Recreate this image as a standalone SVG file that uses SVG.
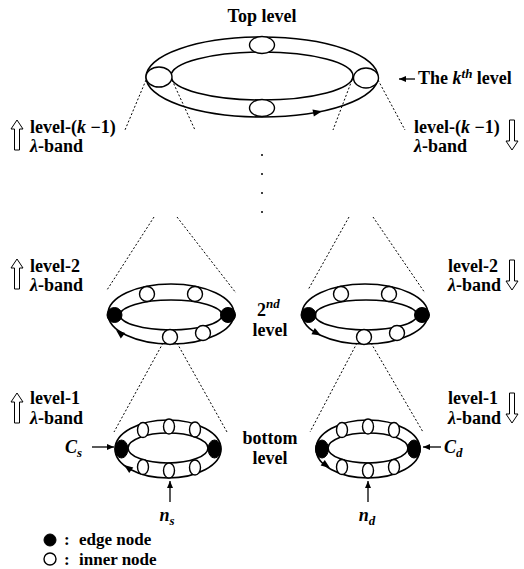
<svg xmlns="http://www.w3.org/2000/svg" width="524" height="569" viewBox="0 0 524 569">
<style>
  .ring{fill:none;stroke:#000;stroke-width:1.6}
  .wn{fill:#fff;stroke:#000;stroke-width:1.4}
  .bn{fill:#000;stroke:#000;stroke-width:1}
  .dot{fill:none;stroke:#000;stroke-width:1;stroke-dasharray:2,2}
  .ln{fill:none;stroke:#000;stroke-width:1.3}
  .t{font-family:"Liberation Serif","Times New Roman",serif;font-weight:bold;font-size:18px;fill:#000}
  .lg{font-size:17px}
  .i{font-style:italic}
  .hol{fill:#fff;stroke:#000;stroke-width:1}
  .ah{fill:#000}
</style>
<defs>
  <marker id="arr" markerWidth="8" markerHeight="8" refX="7" refY="4" orient="auto" markerUnits="userSpaceOnUse">
    <path d="M0,1 L7,4 L0,7 Z" fill="#000"/>
  </marker>
  <path id="hup" d="M0,0 L6,9 L2.5,9 L2.5,30 L-2.5,30 L-2.5,9 L-6,9 Z"/>
  <path id="head" d="M0,0 L-9,-3.5 L-9,3.5 Z"/>
</defs>

<!-- Top level ring -->
<g id="top-ring">
  <ellipse class="ring" cx="262" cy="77" rx="116" ry="40"/>
  <ellipse class="ring" cx="262" cy="76" rx="91" ry="24"/>
  <ellipse class="wn" cx="159" cy="77" rx="13" ry="10"/>
  <ellipse class="wn" cx="366" cy="78" rx="12.5" ry="10"/>
  <ellipse class="wn" cx="262" cy="45" rx="12.5" ry="8.5"/>
  <ellipse class="wn" cx="262" cy="108" rx="12.5" ry="8.5"/>
  <use href="#head" class="ah" transform="translate(322,111.3) rotate(-11)"/>
</g>

<!-- 2nd level left ring -->
<g id="l2-left">
  <ellipse class="ring" cx="171" cy="314" rx="63" ry="30"/>
  <ellipse class="ring" cx="171" cy="315" rx="51" ry="15"/>
  <circle class="bn" cx="114.5" cy="315" r="7.5"/>
  <circle class="bn" cx="228" cy="315" r="7.5"/>
  <circle class="wn" cx="147" cy="294" r="7.5"/>
  <circle class="wn" cx="195" cy="294" r="7.5"/>
  <circle class="wn" cx="170" cy="337" r="7.5"/>
  <circle class="wn" cx="203" cy="333" r="7.5"/>
  <use href="#head" class="ah" transform="translate(116,330) rotate(-141)"/>
</g>

<!-- 2nd level right ring -->
<g id="l2-right">
  <ellipse class="ring" cx="365" cy="314" rx="63" ry="30"/>
  <ellipse class="ring" cx="366" cy="315" rx="51" ry="15"/>
  <circle class="bn" cx="308.5" cy="315" r="7.5"/>
  <circle class="bn" cx="422" cy="315" r="7.5"/>
  <circle class="wn" cx="341" cy="294" r="7.5"/>
  <circle class="wn" cx="389" cy="294" r="7.5"/>
  <circle class="wn" cx="364" cy="337" r="7.5"/>
  <circle class="wn" cx="397" cy="333" r="7.5"/>
  <use href="#head" class="ah" transform="translate(321,335.5) rotate(29)"/>
</g>

<!-- bottom left ring -->
<g id="bottom-left">
  <ellipse class="ring" cx="168" cy="449" rx="53" ry="29"/>
  <ellipse class="ring" cx="168" cy="448" rx="40" ry="15"/>
  <ellipse class="bn" cx="121.5" cy="449" rx="6.5" ry="9"/>
  <ellipse class="bn" cx="214.5" cy="449" rx="6.5" ry="9"/>
  <ellipse class="wn" cx="143" cy="430" rx="5.5" ry="7.5"/>
  <ellipse class="wn" cx="169" cy="426.5" rx="5.5" ry="7.5"/>
  <ellipse class="wn" cx="195" cy="429.5" rx="5.5" ry="7.5"/>
  <ellipse class="wn" cx="143" cy="467" rx="5.5" ry="7.5"/>
  <ellipse class="wn" cx="169" cy="470.5" rx="5.5" ry="7.5"/>
  <ellipse class="wn" cx="195" cy="467.5" rx="5.5" ry="7.5"/>
  <use href="#head" class="ah" transform="translate(124,465) rotate(-144)"/>
</g>

<!-- bottom right ring -->
<g id="bottom-right">
  <ellipse class="ring" cx="368" cy="449" rx="52" ry="29"/>
  <ellipse class="ring" cx="368" cy="448" rx="40" ry="15"/>
  <ellipse class="bn" cx="322" cy="449" rx="6.5" ry="9"/>
  <ellipse class="bn" cx="414" cy="449" rx="6.5" ry="9"/>
  <ellipse class="wn" cx="342" cy="430" rx="5.5" ry="7.5"/>
  <ellipse class="wn" cx="368" cy="426.5" rx="5.5" ry="7.5"/>
  <ellipse class="wn" cx="394" cy="430" rx="5.5" ry="7.5"/>
  <ellipse class="wn" cx="342" cy="467" rx="5.5" ry="7.5"/>
  <ellipse class="wn" cx="368" cy="470.5" rx="5.5" ry="7.5"/>
  <ellipse class="wn" cx="394" cy="467" rx="5.5" ry="7.5"/>
  <use href="#head" class="ah" transform="translate(330,468) rotate(36)"/>
</g>

<!-- connectors -->
<g id="connectors">
  <line class="dot" x1="146" y1="80" x2="125" y2="130"/>
  <line class="dot" x1="172" y1="80" x2="195" y2="130"/>
  <line class="dot" x1="352" y1="80" x2="333" y2="130"/>
  <line class="dot" x1="378" y1="80" x2="405" y2="130"/>
  <line class="dot" x1="154" y1="217" x2="107" y2="290"/>
  <line class="dot" x1="177" y1="217" x2="236" y2="293"/>
  <line class="dot" x1="349" y1="217" x2="308" y2="290"/>
  <line class="dot" x1="373" y1="217" x2="425" y2="293"/>
  <line class="dot" x1="163" y1="343" x2="114" y2="432"/>
  <line class="dot" x1="177" y1="343" x2="227" y2="432"/>
  <line class="dot" x1="357" y1="343" x2="310" y2="432"/>
  <line class="dot" x1="371" y1="343" x2="423" y2="432"/>
  <circle cx="262" cy="155" r="1"/>
  <circle cx="262" cy="174" r="1"/>
  <circle cx="262" cy="193" r="1"/>
  <circle cx="262" cy="212" r="1"/>
  <line class="ln" x1="415" y1="79" x2="399" y2="79" marker-end="url(#arr)"/>
  <line class="ln" x1="92" y1="447" x2="114" y2="447" marker-end="url(#arr)"/>
  <line class="ln" x1="441" y1="447" x2="423" y2="447" marker-end="url(#arr)"/>
  <line class="ln" x1="170" y1="502" x2="170" y2="481" marker-end="url(#arr)"/>
  <line class="ln" x1="368" y1="502" x2="368" y2="481" marker-end="url(#arr)"/>
  <use href="#hup" class="hol" transform="translate(17,120)"/>
  <use href="#hup" class="hol" transform="translate(512,150) rotate(180)"/>
  <use href="#hup" class="hol" transform="translate(17,259)"/>
  <use href="#hup" class="hol" transform="translate(512,290) rotate(180)"/>
  <use href="#hup" class="hol" transform="translate(17,393)"/>
  <use href="#hup" class="hol" transform="translate(512,423) rotate(180)"/>
</g>

<!-- labels -->
<g id="labels">
  <text class="t" x="262" y="22" text-anchor="middle">Top level</text>
  <text class="t" x="418" y="84">The <tspan class="i">k</tspan><tspan class="i" font-size="13" dy="-6">th</tspan><tspan dy="6"> level</tspan></text>
  <text class="t" x="30" y="133">level-(<tspan class="i">k</tspan> −1)</text>
  <text class="t" x="30" y="152"><tspan class="i">λ</tspan>-band</text>
  <text class="t" x="414" y="133">level-(<tspan class="i">k</tspan> −1)</text>
  <text class="t" x="414" y="152"><tspan class="i">λ</tspan>-band</text>
  <text class="t" x="30" y="272">level-2</text>
  <text class="t" x="30" y="291"><tspan class="i">λ</tspan>-band</text>
  <text class="t" x="448" y="272">level-2</text>
  <text class="t" x="448" y="291"><tspan class="i">λ</tspan>-band</text>
  <text class="t" x="257" y="316" font-weight="normal">2<tspan class="i" font-weight="bold" font-size="13" dy="-8">nd</tspan></text>
  <text class="t" x="270" y="336" text-anchor="middle">level</text>
  <text class="t" x="30" y="404">level-1</text>
  <text class="t" x="30" y="424"><tspan class="i">λ</tspan>-band</text>
  <text class="t" x="448" y="404">level-1</text>
  <text class="t" x="448" y="424"><tspan class="i">λ</tspan>-band</text>
  <text class="t" x="270" y="444" text-anchor="middle">bottom</text>
  <text class="t" x="270" y="464" text-anchor="middle">level</text>
  <text class="t i" x="65" y="453">C<tspan font-size="13" dy="4">s</tspan></text>
  <text class="t i" x="444" y="453">C<tspan font-size="13" dy="4">d</tspan></text>
  <text class="t i" x="167" y="521" text-anchor="middle">n<tspan font-size="13" dy="4">s</tspan></text>
  <text class="t i" x="367" y="521" text-anchor="middle">n<tspan font-size="13" dy="4">d</tspan></text>
</g>

<!-- legend -->
<g id="legend">
  <circle class="bn" cx="50" cy="540" r="6"/>
  <circle class="wn" cx="50" cy="559" r="6"/>
  <text class="t lg" x="64" y="545">:<tspan x="79">edge node</tspan></text>
  <text class="t lg" x="64" y="565">:<tspan x="79">inner node</tspan></text>
</g>
</svg>
